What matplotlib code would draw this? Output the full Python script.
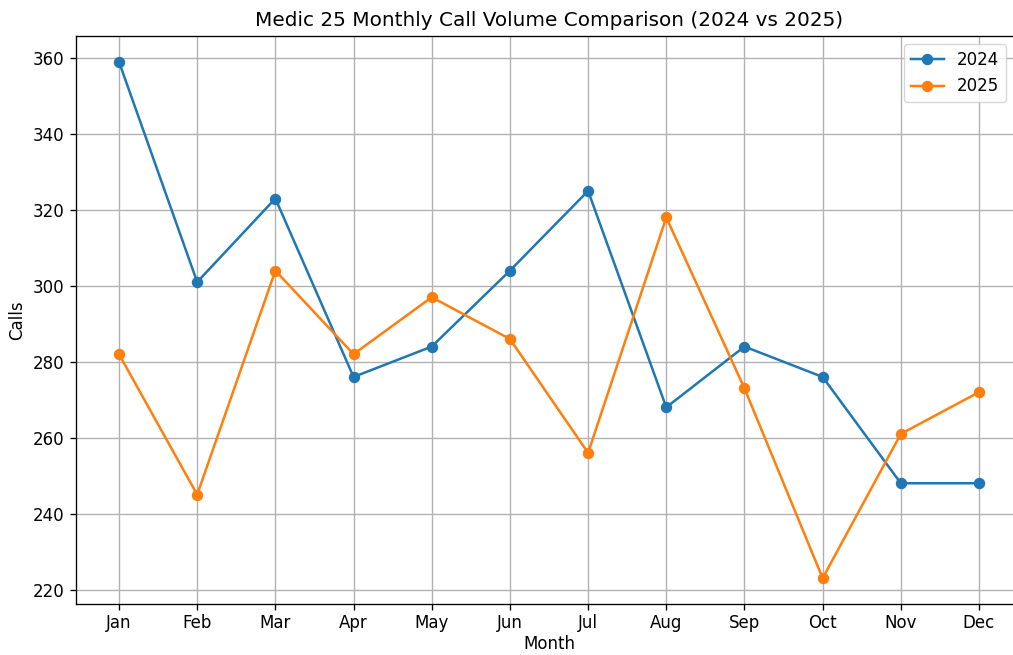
import matplotlib
matplotlib.use('Agg')
import matplotlib.pyplot as plt

months = ['Jan', 'Feb', 'Mar', 'Apr', 'May', 'Jun', 'Jul', 'Aug', 'Sep', 'Oct', 'Nov', 'Dec']
calls_2024 = [359, 301, 323, 276, 284, 304, 325, 268, 284, 276, 248, 248]
calls_2025 = [282, 245, 304, 282, 297, 286, 256, 318, 273, 223, 261, 272]

# reference looks like a default plot saved at ~1.2x scale
s = 1.2
plt.rcParams.update({
    'font.size': 10 * s,
    'lines.linewidth': 1.5 * s,
    'lines.markersize': 6 * s,
    'axes.linewidth': 0.8 * s,
    'grid.linewidth': 0.8 * s,
    'xtick.major.width': 0.8 * s,
    'ytick.major.width': 0.8 * s,
    'xtick.major.size': 3.5 * s,
    'ytick.major.size': 3.5 * s,
    'xtick.major.pad': 2.8 * s,
    'ytick.major.pad': 3.5 * s,
})

fig = plt.figure(figsize=(10.13, 6.55), dpi=100)
ax = fig.add_axes([76 / 1013, 1 - 604 / 655, 946 / 1013, 568 / 655])

ax.plot(months, calls_2024, marker='o', label='2024')
ax.plot(months, calls_2025, marker='o', label='2025')

ax.set_title('Medic 25 Monthly Call Volume Comparison (2024 vs 2025)', fontsize=12 * s, pad=6 * s)
ax.set_xlabel('Month', labelpad=2)
ax.set_ylabel('Calls', labelpad=5)
ax.grid(True)
ax.legend(loc='upper right', bbox_to_anchor=(0.992, 1.0))

fig.savefig('out.png', dpi=100)
